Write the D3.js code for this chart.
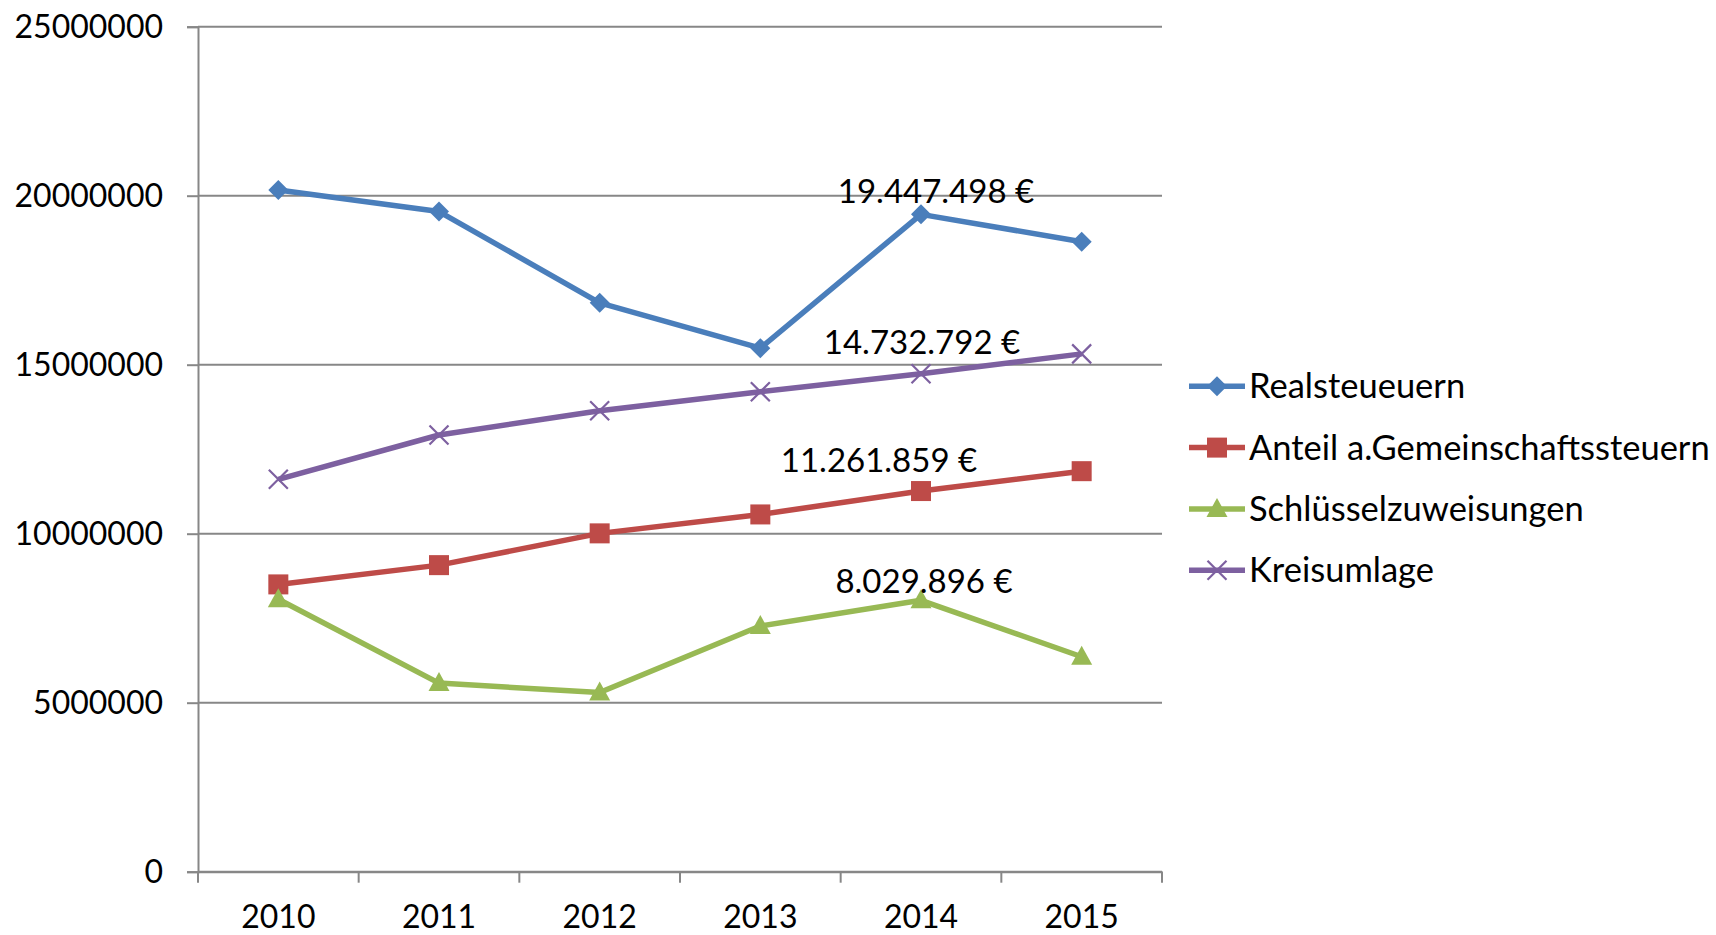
<!DOCTYPE html>
<html>
<head>
<meta charset="utf-8">
<script src="https://cdn.jsdelivr.net/npm/d3@7"></script>
<style>
  html, body { margin: 0; padding: 0; background: #fff; }
  svg { display: block; }
  text { font-family: Lato, "Open Sans", sans-serif; fill: #000; }
</style>
</head>
<body>
<svg id="chart" width="1716" height="935"></svg>
<script>
// ---- data ----
const years = ["2010", "2011", "2012", "2013", "2014", "2015"];
const realsteuern = [20170000, 19530000, 16830000, 15490000, 19447498, 18640000];
const gemeinschaftssteuern = [8500000, 9070000, 10010000, 10570000, 11261859, 11850000];
const schluesselzuweisungen = [8060000, 5580000, 5300000, 7270000, 8029896, 6360000];
const kreisumlage = [11610000, 12920000, 13640000, 14200000, 14732792, 15320000];
const seriesNames = ["Realsteueuern", "Anteil a.Gemeinschaftssteuern", "Schlüsselzuweisungen", "Kreisumlage"];
const yTicks = [0, 5000000, 10000000, 15000000, 20000000, 25000000];
const labelYear = "2014";
const labelTexts = ["19.447.498 €", "11.261.859 €", "8.029.896 €", "14.732.792 €"];

(function () {
// ---- styling / layout ----
const colors = ["#4a7ebb", "#be4b48", "#98b954", "#7d60a0"];
const markers = ["diamond", "square", "triangle", "cross"];
const labelOffsets = [[15, -11], [-42, -19], [3, -7], [1, -20]];
const seriesValues = [realsteuern, gemeinschaftssteuern, schluesselzuweisungen, kreisumlage];

const svg = d3.select("#chart");
const pLeft = 198, pRight = 1162, pTop = 26.7, pBottom = 871.7;
const fontSize = 32;
const labelFont = 33;
const legendFont = 34.5;
const fontFam = "Lato, 'Open Sans', sans-serif";

const x = d3.scaleBand().domain(years).range([pLeft, pRight]).padding(0);
const y = d3.scaleLinear().domain([0, 25000000]).range([pBottom, pTop]);
const cx = d => x(d) + x.bandwidth() / 2;

// gridlines
svg.append("g").selectAll("line").data(yTicks).join("line")
  .attr("x1", pLeft).attr("x2", pRight)
  .attr("y1", d => y(d)).attr("y2", d => y(d))
  .attr("stroke", "#878787").attr("stroke-width", 2);

// y axis
const yAxis = svg.append("g").attr("transform", `translate(${pLeft},0)`)
  .call(d3.axisLeft(y).tickValues(yTicks).tickFormat(d3.format("d")).tickSize(11).tickPadding(24));
yAxis.select(".domain").attr("stroke", "#878787").attr("stroke-width", 2);
yAxis.selectAll(".tick line").attr("stroke", "#878787").attr("stroke-width", 2);
yAxis.selectAll(".tick text").style("font-size", fontSize + "px")
  .style("font-family", fontFam).attr("fill", "#000").attr("dy", "0.35em");

// x axis (ticks at category boundaries)
const xAxis = svg.append("g").attr("transform", `translate(0,${pBottom})`)
  .call(d3.axisBottom(x).tickSize(0).tickPadding(56));
xAxis.select(".domain").attr("stroke", "#878787").attr("stroke-width", 2);
xAxis.selectAll(".tick text").style("font-size", fontSize + "px")
  .style("font-family", fontFam).attr("fill", "#000").attr("dy", "0");
const bounds = years.map(d => x(d)).concat([pRight]);
xAxis.append("g").selectAll("line").data(bounds).join("line")
  .attr("x1", d => d).attr("x2", d => d).attr("y1", 0).attr("y2", 11)
  .attr("stroke", "#878787").attr("stroke-width", 2);

// marker drawing
function drawMarker(g, type, color, px, py) {
  if (type === "diamond") {
    const s = 10;
    g.append("path").attr("d", `M${px},${py - s}L${px + s},${py}L${px},${py + s}L${px - s},${py}Z`).attr("fill", color);
  } else if (type === "square") {
    g.append("rect").attr("x", px - 10).attr("y", py - 10).attr("width", 20).attr("height", 20).attr("fill", color);
  } else if (type === "triangle") {
    g.append("path").attr("d", `M${px},${py - 11}L${px + 10.5},${py + 8}L${px - 10.5},${py + 8}Z`).attr("fill", color);
  } else {
    const s = 9.5;
    g.append("path").attr("d", `M${px - s},${py - s}L${px + s},${py + s}M${px - s},${py + s}L${px + s},${py - s}`)
      .attr("stroke", color).attr("stroke-width", 2.2).attr("fill", "none");
  }
}

// lines
const line = d3.line().x((d, i) => cx(years[i])).y(d => y(d));
seriesValues.forEach((vals, si) => {
  const g = svg.append("g");
  g.append("path").datum(vals).attr("d", line)
    .attr("fill", "none").attr("stroke", colors[si]).attr("stroke-width", 5.5)
    .attr("stroke-linejoin", "round");
  vals.forEach((v, i) => drawMarker(g, markers[si], colors[si], cx(years[i]), y(v)));
});

// data labels
const li = years.indexOf(labelYear);
seriesValues.forEach((vals, si) => {
  svg.append("text")
    .attr("x", cx(labelYear) + labelOffsets[si][0])
    .attr("y", y(vals[li]) + labelOffsets[si][1])
    .attr("text-anchor", "middle")
    .style("font-size", labelFont + "px")
    .text(labelTexts[si]);
});

// legend
const legendRows = [386.3, 447.6, 508.9, 570.2];
const lg = svg.append("g");
seriesNames.forEach((name, si) => {
  const ry = legendRows[si];
  lg.append("line").attr("x1", 1189).attr("x2", 1245).attr("y1", ry).attr("y2", ry)
    .attr("stroke", colors[si]).attr("stroke-width", 5.5);
  drawMarker(lg, markers[si], colors[si], 1217, ry);
  lg.append("text").attr("x", 1249).attr("y", ry).attr("dy", "0.35em")
    .style("font-size", legendFont + "px").text(name);
});
})();
</script>
</body>
</html>
